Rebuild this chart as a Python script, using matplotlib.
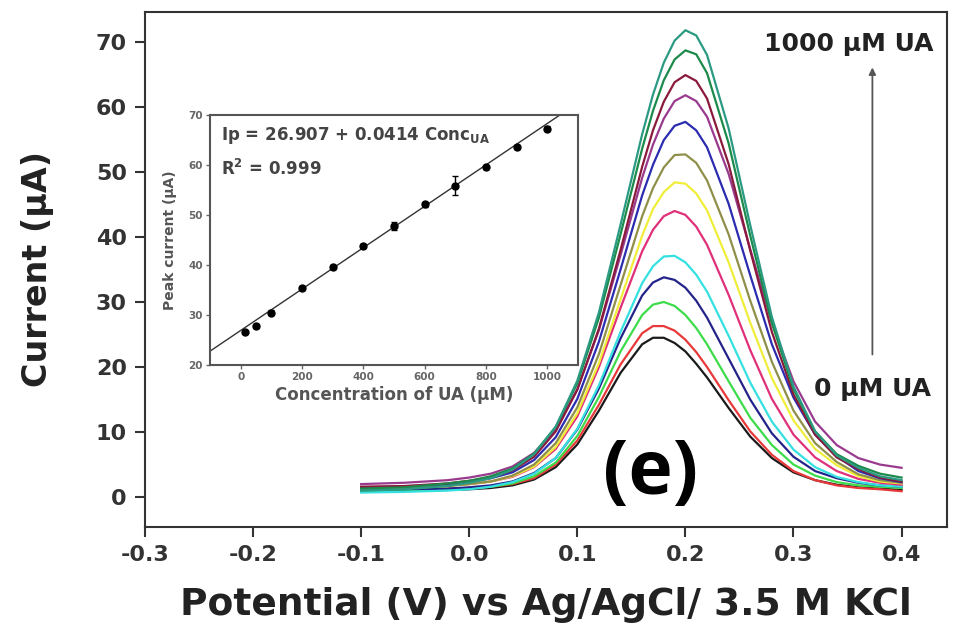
import matplotlib
matplotlib.use('Agg')
import matplotlib.pyplot as plt


### data

# potential grid (V) shared by all DPV curves
potential = [-0.10, -0.06, -0.02, 0.00, 0.02, 0.04, 0.06, 0.08, 0.10, 0.12, 0.14, 0.16, 0.17, 0.18,
             0.19, 0.20, 0.21, 0.22, 0.24, 0.26, 0.28, 0.30, 0.32, 0.34, 0.36, 0.38, 0.40]

# current (uA), from 0 uM UA up to 1000 uM UA
cur_black = [1.0, 1.0, 1.1, 1.2, 1.4, 1.8, 2.7, 4.6, 8.1, 13.3, 19.1, 23.5, 24.5, 24.5,
             23.7, 22.4, 20.5, 18.4, 13.7, 9.3, 6.0, 3.8, 2.6, 1.9, 1.5, 1.3, 1.1]
cur_red = [1.2, 1.2, 1.3, 1.4, 1.6, 2.0, 2.9, 5.0, 8.7, 14.2, 20.4, 25.2, 26.3, 26.3,
           25.6, 24.2, 22.3, 20.0, 14.9, 10.1, 6.5, 4.0, 2.6, 1.8, 1.4, 1.2, 0.9]
cur_lime = [1.0, 1.0, 1.1, 1.3, 1.6, 2.1, 3.2, 5.3, 9.4, 15.4, 22.4, 28.0, 29.6, 30.0,
            29.4, 28.0, 26.0, 23.5, 17.8, 12.2, 8.0, 5.0, 3.3, 2.3, 1.8, 1.6, 1.4]
cur_navy = [1.2, 1.2, 1.3, 1.5, 1.8, 2.4, 3.7, 6.0, 10.4, 16.7, 24.4, 31.0, 33.0, 33.8,
            33.4, 32.2, 30.2, 27.6, 21.3, 15.0, 9.8, 6.2, 4.0, 2.9, 2.2, 1.8, 1.6]
cur_cyan = [0.7, 0.8, 1.0, 1.2, 1.6, 2.3, 3.6, 6.0, 10.5, 17.2, 25.4, 32.9, 35.5, 37.0,
            37.1, 36.1, 34.2, 31.6, 24.8, 17.6, 11.6, 7.3, 4.6, 3.1, 2.3, 1.8, 1.6]
cur_pink = [1.5, 1.5, 1.8, 2.0, 2.4, 3.1, 4.6, 7.4, 12.4, 20.0, 29.1, 37.8, 41.1, 43.2,
            44.0, 43.4, 41.6, 38.8, 31.1, 22.6, 15.1, 9.6, 6.1, 4.0, 2.8, 2.2, 1.9]
cur_yellow = [1.3, 1.4, 1.7, 2.0, 2.4, 3.2, 4.7, 7.7, 12.9, 20.6, 30.4, 40.2, 44.3, 46.9,
              48.4, 48.2, 46.7, 44.1, 36.1, 26.8, 18.3, 11.8, 7.4, 4.9, 3.2, 2.4, 2.1]
cur_olive = [1.2, 1.3, 1.7, 2.0, 2.4, 3.3, 5.0, 8.3, 13.8, 22.0, 32.6, 43.2, 47.5, 50.7,
             52.6, 52.7, 51.4, 48.7, 40.4, 30.2, 20.8, 13.3, 8.3, 5.4, 3.5, 2.6, 2.2]
cur_blue = [1.5, 1.6, 2.0, 2.3, 2.9, 3.8, 5.7, 9.2, 15.1, 23.9, 35.0, 46.4, 51.1, 54.9,
            57.1, 57.7, 56.4, 53.8, 45.1, 34.1, 23.5, 15.3, 9.6, 6.3, 4.0, 2.9, 2.3]
cur_purple = [2.0, 2.2, 2.6, 3.0, 3.6, 4.7, 6.8, 10.4, 16.6, 25.7, 37.2, 49.1, 54.2, 58.2,
              60.9, 61.8, 60.9, 58.5, 49.7, 38.1, 26.8, 17.8, 11.6, 8.0, 6.0, 5.0, 4.5]
cur_maroon = [1.6, 1.7, 2.1, 2.5, 3.0, 4.1, 6.2, 10.1, 16.5, 25.9, 38.0, 50.8, 56.4, 60.8,
              63.8, 64.9, 64.0, 61.3, 51.2, 37.9, 25.4, 15.8, 9.6, 6.1, 4.3, 3.0, 2.4]
cur_green = [1.3, 1.5, 2.1, 2.5, 3.2, 4.4, 6.7, 10.8, 17.5, 27.6, 40.4, 53.6, 59.4, 64.1,
             67.3, 68.7, 68.1, 65.2, 54.4, 40.2, 26.8, 16.6, 10.1, 6.6, 4.8, 3.6, 3.0]
cur_teal = [1.0, 1.2, 1.7, 2.2, 2.9, 4.2, 6.6, 10.8, 17.9, 28.4, 41.9, 55.8, 61.9, 66.8,
            70.2, 71.8, 71.0, 68.0, 56.7, 41.8, 27.7, 17.0, 10.1, 6.4, 4.5, 3.2, 2.6]

curves = [cur_black, cur_red, cur_lime, cur_navy, cur_cyan, cur_pink, cur_yellow,
          cur_olive, cur_blue, cur_purple, cur_maroon, cur_green, cur_teal]
colors = ['#1a1a1a', '#e8393a', '#3ddc4a', '#23238a', '#35e0e0', '#e0307a', '#f0ee3a',
          '#8f8f4a', '#2c2cb0', '#9a3a8e', '#8a1a3c', '#1c8a4a', '#2a9a82']

# inset: calibration
conc = [15, 50, 100, 200, 300, 400, 500, 600, 700, 800, 900, 1000]
peak = [26.6, 27.9, 30.5, 35.5, 39.6, 43.9, 47.9, 52.2, 55.9, 59.7, 63.7, 67.3]
peak_err = [0.3, 0.4, 0.5, 0.4, 0.4, 0.4, 0.8, 0.5, 1.9, 0.4, 0.4, 0.5]
fit_intercept = 26.907
fit_slope = 0.0414


### plot

plt.rcParams['font.family'] = 'DejaVu Sans'
plt.rcParams['font.weight'] = 'bold'

fig = plt.figure(figsize=(9.55, 6.39), dpi=100)
ax = fig.add_axes([0.1518, 0.1753, 0.8398, 0.8059])

for y, c in zip(curves, colors):
	ax.plot(potential, y, color=c, lw=1.6)

ax.set_xlim(-0.3, 0.442)
ax.set_ylim(-4.6, 74.6)
ax.set_xticks([-0.3, -0.2, -0.1, 0.0, 0.1, 0.2, 0.3, 0.4])
ax.set_xticklabels(['-0.3', '-0.2', '-0.1', '0.0', '0.1', '0.2', '0.3', '0.4'])
ax.set_yticks(range(0, 80, 10))
ax.tick_params(direction='out', length=7, width=1.5, labelsize=16, colors='#333333', pad=6)
for s in ax.spines.values():
	s.set_linewidth(1.5)
	s.set_color('#333333')

ax.set_xlabel('Potential (V) vs Ag/AgCl/ 3.5 M KCl', fontsize=27, fontweight='bold', color='#222222', labelpad=16)
ax.set_ylabel('Current (µA)', fontsize=24, fontweight='bold', color='#222222', labelpad=30)

# annotations
ax.text(0.351, 69.7, '1000 µM UA', fontsize=18, fontweight='bold', color='#222222', ha='center', va='center')
ax.text(0.373, 16.6, '0 µM UA', fontsize=18, fontweight='bold', color='#222222', ha='center', va='center')
ax.annotate('', xy=(0.373, 66.5), xytext=(0.373, 21.5),
	arrowprops=dict(arrowstyle='-|>', color='#555555', lw=1.3, mutation_scale=10))
ax.text(0.168, 3.5, '(e)', fontsize=54, fontweight='bold', family='Open Sans', color='black', ha='center', va='center')

# inset
ins = fig.add_axes([0.2199, 0.4288, 0.3853, 0.3912])
ins.errorbar(conc, peak, yerr=peak_err, fmt='o', color='black', ms=5, capsize=2, elinewidth=1)
ins.plot([-100, 1100], [fit_intercept + fit_slope * -100, fit_intercept + fit_slope * 1100], color='#333333', lw=1)
ins.set_xlim(-100, 1100)
ins.set_ylim(20, 70)
ins.set_xticks(range(0, 1200, 200))
ins.set_yticks(range(20, 80, 10))
ins.tick_params(direction='out', length=3, width=1, labelsize=7.5, colors='#666666', pad=2)
for s in ins.spines.values():
	s.set_linewidth(1.5)
	s.set_color('#555555')
ins.set_xlabel('Concentration of UA (µM)', fontsize=12, fontweight='bold', color='#555555', labelpad=3)
ins.set_ylabel('Peak current (µA)', fontsize=10, fontweight='bold', color='#555555', labelpad=8)
ins.text(0.03, 0.92, r'Ip = 26.907 + 0.0414 Conc$_{\mathbf{UA}}$', transform=ins.transAxes,
	fontsize=12, fontweight='bold', color='#444444', va='center')
ins.text(0.03, 0.785, r'R$^{\mathbf{2}}$ = 0.999', transform=ins.transAxes,
	fontsize=12, fontweight='bold', color='#444444', va='center')

fig.savefig('out.png', dpi=100)
